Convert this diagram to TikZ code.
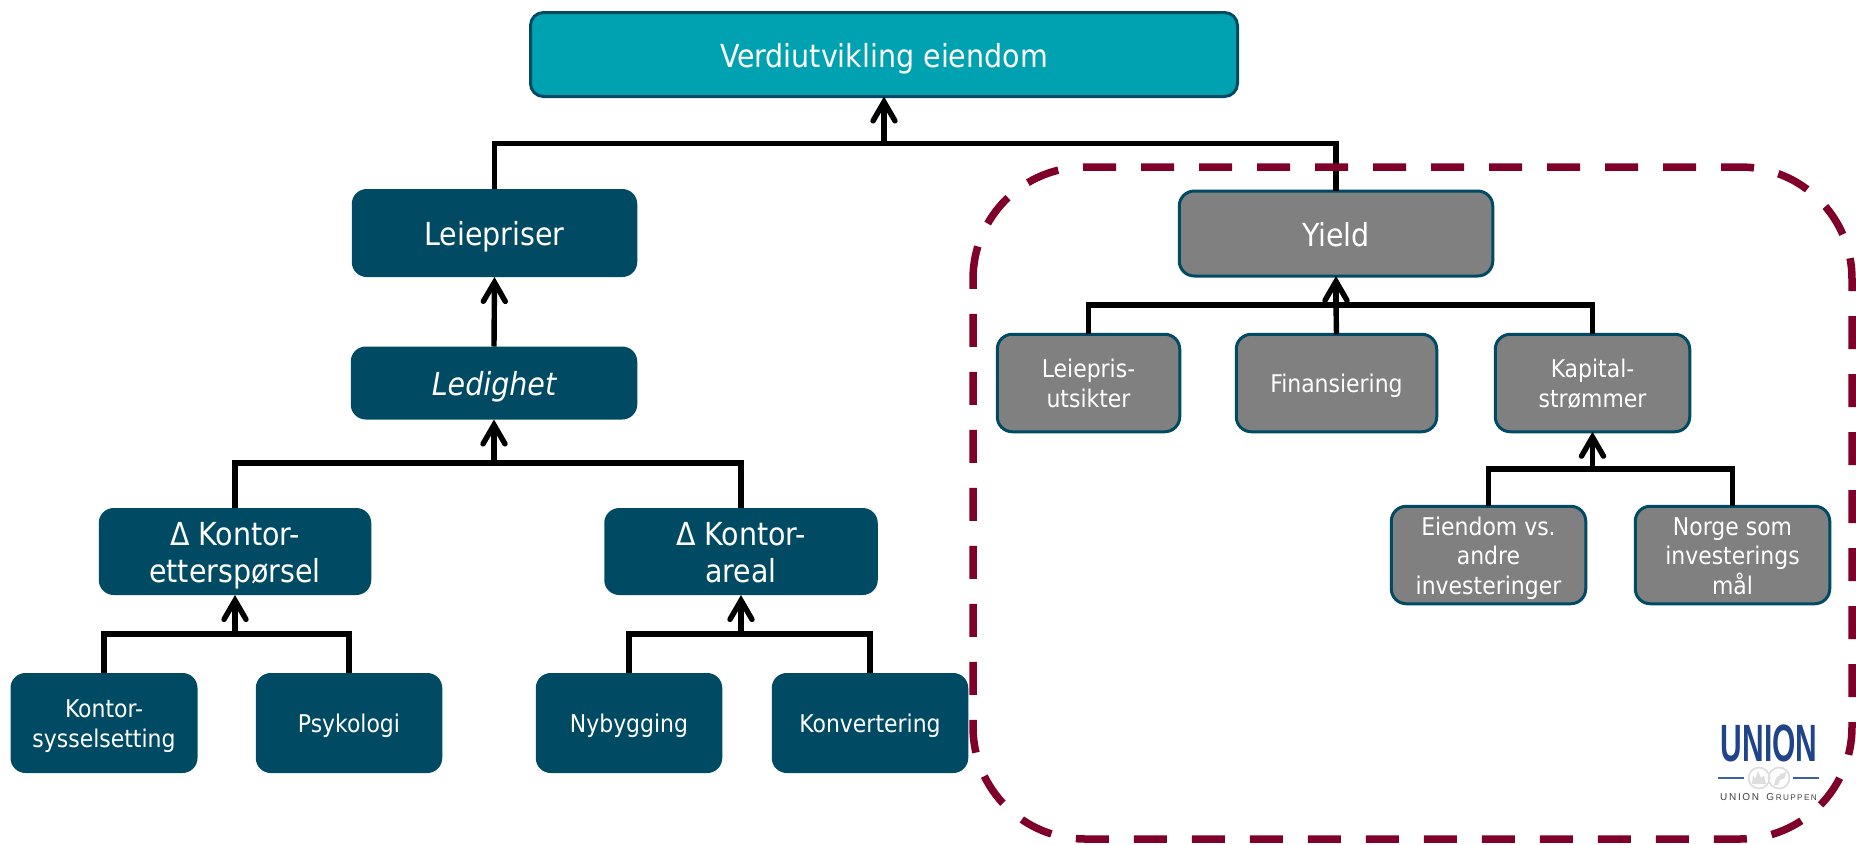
\documentclass[tikz,border=0pt]{standalone}
\usepackage{fontspec}
\setmainfont{DejaVu Sans Condensed}
\newfontfamily\logofont{Liberation Sans}
\usetikzlibrary{arrows.meta}
\definecolor{petrol}{HTML}{004B63}
\definecolor{teal}{HTML}{00A2B2}
\definecolor{midgrey}{HTML}{808080}
\definecolor{wine}{HTML}{7F0029}
\definecolor{logoblue}{HTML}{1F4489}
\definecolor{logoline}{HTML}{3C5FA8}
\definecolor{logogrey}{HTML}{DEDEDE}
\newcommand\bigfirst{\rule{0pt}{34pt}}
\newcommand\smallfirst{\rule{0pt}{26.4pt}}
\tikzset{
  box/.style={rectangle,rounded corners=15pt,inner sep=0pt,outer sep=0pt,text=white,align=center},
  bigtext/.style={font=\fontsize{31.7}{37.7}\selectfont,
    execute at end node={\rule[-9pt]{0pt}{9pt}}},
  smalltext/.style={font=\fontsize{24.4}{29.6}\selectfont,
    execute at end node={\rule[-7pt]{0pt}{7pt}}},
  rim/.style={draw=petrol,line width=3pt},
  topbox/.style={box,bigtext,rim,fill=teal,rounded corners=13pt},
  bigdark/.style={box,bigtext,fill=petrol},
  smalldark/.style={box,smalltext,fill=petrol},
  biggrey/.style={box,bigtext,rim,fill=midgrey},
  smallgrey/.style={box,smalltext,rim,fill=midgrey},
  link/.style={draw=black,line width=5.4pt,line cap=butt,line join=miter},
  up/.style={link,-{Straight Barb[length=19pt,width=22pt,line cap=round,line join=miter]}},
  dashbox/.style={draw=wine,line width=7.5pt,dash pattern=on 33pt off 25pt,line cap=butt},
  wh/.style 2 args={minimum width=#1pt,minimum height=#2pt}
}
\begin{document}
\begin{tikzpicture}[x=1pt,y=-1pt]
\useasboundingbox (0,0) rectangle (1856,844);
% boxes
\node[topbox,wh={707}{84}] (top) at (884,54.5) {\bigfirst Verdiutvikling eiendom};
\node[bigdark,wh={285.5}{88}] (leie) at (494.5,233) {\bigfirst Leiepriser};
\node[bigdark,wh={286.5}{73}] (led) at (494,383) {\bigfirst\itshape Ledighet};
\node[bigdark,wh={272.5}{87}] (ett) at (235,551.5) {\bigfirst Δ Kontor-\\etterspørsel};
\node[bigdark,wh={273.5}{87}] (are) at (741,551.5) {\bigfirst Δ Kontor-\\areal};
\node[smalldark,wh={187}{100}] (sys) at (104,723) {\smallfirst Kontor-\\sysselsetting};
\node[smalldark,wh={186.5}{100}] (psy) at (349,723) {\smallfirst Psykologi};
\node[smalldark,wh={186.5}{100}] (nyb) at (629,723) {\smallfirst Nybygging};
\node[smalldark,wh={196.5}{100}] (kon) at (870,723) {\smallfirst Konvertering};
\node[biggrey,wh={313.5}{85}] (yie) at (1336,233.5) {\bigfirst Yield};
\node[smallgrey,wh={182.5}{97.5}] (lut) at (1088.5,383) {\smallfirst Leiepris-\\utsikter};
\node[smallgrey,wh={200.5}{97.5}] (fin) at (1336.5,383) {\smallfirst Finansiering};
\node[smallgrey,wh={194.5}{97.5}] (kap) at (1592.5,383) {\smallfirst Kapital-\\strømmer};
\node[smallgrey,wh={194.5}{97.5}] (eie) at (1488.5,555) {\smallfirst Eiendom vs.\\andre\\investeringer};
\node[smallgrey,wh={194.5}{97.5}] (nor) at (1732.5,555) {\smallfirst Norge som\\investerings\\mål};
% junctions
\coordinate (jtop) at (884,143.5);
\coordinate (jled) at (494,463);
\coordinate (jett) at (235,634);
\coordinate (jare) at (741,634);
\coordinate (jyie) at (1336,305);
\coordinate (jkap) at (1592.5,469);
% connectors
\draw[link] (leie.north) |- (jtop);
\draw[link] (yie.north) |- (jtop);
\draw[up] (jtop) -- (top.south);
\draw[up] (led.north) -- (leie.south);
\draw[link] (ett.north) |- (jled);
\draw[link] (are.north) |- (jled);
\draw[up] (jled) -- (led.south);
\draw[link] (sys.north) |- (jett);
\draw[link] (psy.north) |- (jett);
\draw[up] (jett) -- (ett.south);
\draw[link] (nyb.north) |- (jare);
\draw[link] (kon.north) |- (jare);
\draw[up] (jare) -- (are.south);
\draw[link] (lut.north) |- (jyie);
\draw[link] (kap.north) |- (jyie);
\draw[link] (fin.north) -- (jyie);
\draw[up] (jyie) -- (yie.south);
\draw[link] (eie.north) |- (jkap);
\draw[link] (nor.north) |- (jkap);
\draw[up] (jkap) -- (kap.south);
% dashed frame, clockwise from the left side
\draw[dashbox] (973,279) .. controls (973,217.1) and (1023.1,167) .. (1085,167)
  -- (1740,167) .. controls (1801.9,167) and (1852,217.1) .. (1852,279)
  -- (1852,727) .. controls (1852,788.9) and (1801.9,839) .. (1740,839)
  -- (1085,839) .. controls (1023.1,839) and (973,788.9) .. (973,727) -- cycle;
% logo
\node[inner sep=0pt,text=logoblue] (logoname) at (1769,743.5) {\logofont\bfseries\scalebox{0.6}[1.05]{\fontsize{50}{50}\selectfont UNION}};
\draw[logoline,line width=1.6pt] (1718,778) -- (1744,778) (1793,778) -- (1819,778);
\draw[logogrey,line width=1.8pt] (1759,778) circle (10.5pt) (1779,778) circle (10.5pt);
\fill[logogrey] (1752,784) -- (1753,775) -- (1755,779) -- (1758,771) -- (1761,778) -- (1764,775) -- (1766,784) -- cycle;
\fill[logogrey] (1774,785) -- (1776,778) -- (1781,774) -- (1786,772) -- (1785,778) -- (1780,780) -- (1778,785) -- cycle;
\node[inner sep=0pt,text=black!75] (logosub) at (1768.5,797) {\logofont\fontsize{10}{10}\selectfont U\,N\,I\,O\,N\ \ \,G\,{\fontsize{8.2}{10}\selectfont R\,U\,P\,P\,E\,N}};
\end{tikzpicture}
\end{document}
